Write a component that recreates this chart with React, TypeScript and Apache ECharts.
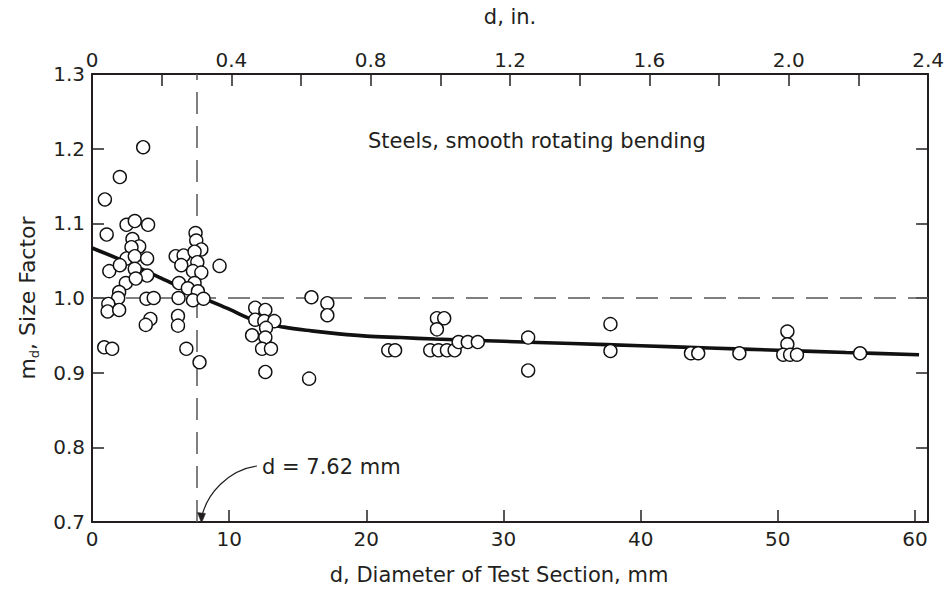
import React, { useEffect, useRef } from "react";
import * as echarts from "echarts";

// ---- data ----
const curveD = [0, 2.5, 5, 7.5, 10, 12, 14, 16, 18, 20, 22.5, 25, 30, 35, 40, 45, 50, 55, 60.3];
const curveMd = [1.067, 1.048, 1.027, 1.005, 0.985, 0.969, 0.961, 0.956, 0.952, 0.949, 0.947, 0.945, 0.942, 0.939, 0.936, 0.933, 0.93, 0.927, 0.924];

const pointD = [
  2.03, 0.94, 1.07, 2.52, 3.12, 4.09, 2.95, 3.44, 2.88, 2.52, 3.12, 4.02, 1.26, 2.03, 3.12, 4.02, 2.47, 3.19, 1.98, 1.91,
  1.19, 1.14, 1.98, 3.97, 4.5, 4.26, 3.92, 0.89, 1.47, 3.73,
  6.1, 6.68, 6.51, 7.55, 7.6, 7.97, 7.48, 7.68, 7.36, 7.97, 6.34, 7.48, 6.99, 7.72, 6.31, 7.36, 8.13, 6.27, 6.27, 6.88,
  7.84, 9.3,
  11.9, 12.64, 11.9, 12.56, 13.29, 12.69, 11.67, 12.64, 12.4, 13.05, 12.64, 16.0, 17.16, 17.16, 15.83,
  21.6, 22.1, 25.15, 25.68, 25.15, 24.66, 25.27, 25.88, 26.44, 26.73, 27.4, 28.13, 31.8, 31.8, 37.8, 37.8,
  43.67, 44.2, 47.2, 50.7, 50.7, 50.4, 50.9, 51.4, 56.0,
];
const pointMd = [
  1.162, 1.132, 1.085, 1.098, 1.103, 1.098, 1.079, 1.069, 1.068, 1.053, 1.056, 1.053, 1.036, 1.044, 1.039, 1.03, 1.02, 1.026, 1.008, 1.0,
  0.992, 0.982, 0.984, 0.999, 1.0, 0.972, 0.964, 0.934, 0.932, 1.202,
  1.056, 1.057, 1.044, 1.087, 1.077, 1.065, 1.062, 1.048, 1.036, 1.034, 1.02, 1.02, 1.013, 1.009, 1.0, 0.997, 0.999, 0.976, 0.963, 0.932,
  0.914, 1.043,
  0.987, 0.984, 0.971, 0.969, 0.969, 0.96, 0.95, 0.947, 0.932, 0.932, 0.901, 1.001, 0.993, 0.977, 0.892,
  0.93, 0.93, 0.973, 0.973, 0.958, 0.93, 0.93, 0.93, 0.93, 0.941, 0.941, 0.941, 0.947, 0.903, 0.965, 0.929,
  0.926, 0.926, 0.926, 0.955, 0.938, 0.924, 0.924, 0.924, 0.926,
];

const criticalD = 7.62; // mm
const unityMd = 1.0;
const xMaxMm = 60.96; // 2.4 in
const xMaxIn = 2.4;
const yMin = 0.7;
const yMax = 1.3;

const FONT = "'DejaVu Sans', 'Liberation Sans', Arial, sans-serif";
const INK = "#231f20";

export default function App() {
  const ref = useRef<HTMLDivElement>(null);

  useEffect(() => {
    const chart = echarts.init(ref.current!, null, { renderer: "svg" });

    const axisLine = { show: true, onZero: false, lineStyle: { color: INK, width: 2 } };
    const tick = { show: true, inside: true, length: 12, lineStyle: { color: INK, width: 1.5 } };
    const labelBase = { color: INK, fontSize: 20, fontFamily: FONT };

    const option: any = {
      animation: false,
      backgroundColor: "#ffffff",
      grid: { left: 92, right: 17, top: 74, bottom: 67, containLabel: false },
      xAxis: [
        {
          type: "value",
          position: "bottom",
          min: 0,
          max: xMaxMm,
          interval: 10,
          axisLine,
          axisTick: tick,
          splitLine: { show: false },
          axisLabel: {
            ...labelBase,
            margin: 7,
            formatter: (v: number) => (Math.abs(v - Math.round(v / 10) * 10) < 1e-6 ? String(Math.round(v)) : ""),
          },
          name: "d, Diameter of Test Section, mm",
          nameLocation: "middle",
          nameGap: 42,
          nameTextStyle: { color: INK, fontSize: 21, fontFamily: FONT, padding: [0, 22, 0, 0] },
        },
        {
          type: "value",
          position: "top",
          min: 0,
          max: xMaxIn,
          interval: 0.2,
          axisLine,
          axisTick: tick,
          splitLine: { show: false },
          axisLabel: {
            ...labelBase,
            margin: 4,
            formatter: (v: number) => {
              const k = Math.round(v * 10);
              if (k % 4 !== 0) return "";
              return k === 0 ? "0" : (k / 10).toFixed(1);
            },
          },
          name: "d, in.",
          nameLocation: "middle",
          nameGap: 47,
          nameTextStyle: { color: INK, fontSize: 21, fontFamily: FONT },
        },
      ],
      yAxis: [
        {
          type: "value",
          position: "left",
          min: yMin,
          max: yMax,
          interval: 0.1,
          axisLine,
          axisTick: tick,
          splitLine: { show: false },
          axisLabel: { ...labelBase, margin: 7, formatter: (v: number) => v.toFixed(1) },
          name: "{m|m}{s|d}{m|, Size Factor}",
          nameLocation: "middle",
          nameRotate: 90,
          nameGap: 50,
          nameTextStyle: {
            color: INK,
            fontFamily: FONT,
            rich: {
              m: { fontSize: 22, lineHeight: 24, padding: [0, 0, 4, 0], color: INK, fontFamily: FONT },
              s: { fontSize: 13, lineHeight: 13, verticalAlign: "bottom", color: INK, fontFamily: FONT },
            },
          },
        },
        {
          type: "value",
          position: "right",
          min: yMin,
          max: yMax,
          interval: 0.1,
          axisLine,
          axisTick: tick,
          splitLine: { show: false },
          axisLabel: { show: false },
        },
      ],
      series: [
        {
          type: "line",
          name: "Trend",
          xAxisIndex: 0,
          yAxisIndex: 0,
          data: curveD.map((d, i) => [d, curveMd[i]]),
          showSymbol: false,
          smooth: 0.35,
          lineStyle: { color: "#111", width: 3.6 },
          z: 3,
          markLine: {
            silent: true,
            symbol: "none",
            label: { show: false },
            lineStyle: { color: "#555", width: 1.5, type: [22, 12] },
            data: [{ yAxis: unityMd }, { xAxis: criticalD }],
            z: 1,
          },
        },
        {
          type: "scatter",
          name: "Steels",
          xAxisIndex: 0,
          yAxisIndex: 0,
          data: pointD.map((d, i) => [d, pointMd[i]]),
          symbol: "circle",
          symbolSize: 13,
          itemStyle: { color: "#ffffff", borderColor: "#111", borderWidth: 1.4, opacity: 1 },
          z: 5,
        },
      ],
      graphic: [
        {
          type: "text",
          x: 368,
          y: 141,
          style: {
            text: "Steels, smooth rotating bending",
            fill: INK,
            fontSize: 21,
            fontFamily: FONT,
            align: "left",
            verticalAlign: "middle",
          },
          z: 10,
        },
        {
          type: "text",
          x: 262,
          y: 467,
          style: {
            text: "d = 7.62 mm",
            fill: INK,
            fontSize: 21,
            fontFamily: FONT,
            align: "left",
            verticalAlign: "middle",
          },
          z: 10,
        },
        {
          type: "bezierCurve",
          shape: { x1: 257, y1: 466, cpx1: 228, cpy1: 470, cpx2: 207, cpy2: 494, x2: 202, y2: 516 },
          style: { stroke: INK, lineWidth: 1.2, fill: null },
          z: 10,
        },
        {
          type: "polygon",
          shape: { points: [[201.5, 523], [197.5, 512.5], [205.5, 513.5]] },
          style: { fill: INK, stroke: INK, lineWidth: 0.5 },
          z: 10,
        },
      ],
    };

    chart.setOption(option);
    return () => chart.dispose();
  }, []);

  return (
    <div
      ref={ref}
      style={{ position: "absolute", left: 0, top: 0, width: 947, height: 590, background: "#fff" }}
    />
  );
}
